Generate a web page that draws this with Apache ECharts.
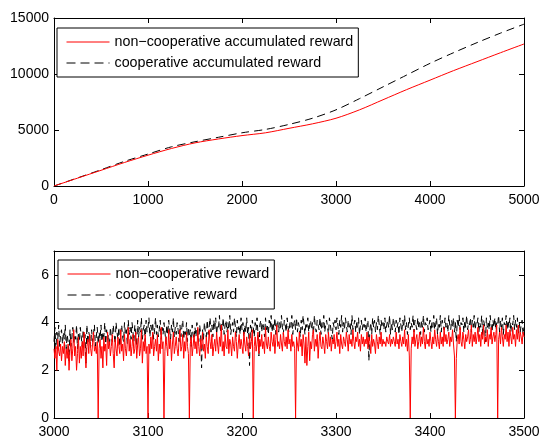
<!DOCTYPE html>
<html><head><meta charset="utf-8">
<script src="https://cdn.jsdelivr.net/npm/echarts@6/dist/echarts.min.js"></script>
<style>html,body{margin:0;padding:0;background:#fff}#c{width:539px;height:441px}</style>
</head><body><div id="c"></div>
<script>
// Top subplot: accumulated reward
const topX = [0,250,500,750,1000,1250,1500,1750,2000,2250,2500,2750,3000,3250,3500,3750,4000,4250,4500,4750,5000];
const topNonCoop = [0,700,1400,2100,2750,3350,3850,4200,4500,4750,5150,5550,6050,6800,7700,8600,9450,10300,11100,11900,12680];
const topCoop = [0,720,1450,2200,2850,3500,3950,4350,4750,5050,5500,6050,6800,7800,8850,9900,10950,11900,12800,13650,14450];
const topXTicks = [0,1000,2000,3000,4000,5000];
const topYTicks = [0,5000,10000,15000];

// Bottom subplot: per-step reward, steps 3000..3500
const botStart = 3000;
const botNonCoop = [
2.9,2.5,3.0,2.0,3.3,2.8,2.6,3.1,2.4,3.0,
2.7,3.2,2.2,2.9,2.5,3.1,2.0,2.8,3.3,2.4,
2.9,3.7,2.6,3.0,2.0,2.7,3.4,2.3,3.0,2.5,
3.2,2.6,3.6,2.8,2.1,3.0,3.3,2.7,3.5,2.9,
2.6,3.1,3.6,2.8,3.0,2.7,3.2,0,2.9,3.3,
2.5,3.0,2.1,3.4,2.8,3.1,2.2,3.6,2.9,3.2,
2.6,3.0,3.5,2.7,2.1,3.3,2.9,2.6,3.4,3.0,
2.7,3.7,2.8,3.1,2.4,3.5,2.9,2.6,3.2,3.8,
2.8,3.3,2.6,3.0,3.5,2.7,2.9,3.6,2.5,3.1,
3.4,2.6,2.9,3.7,2.3,3.2,2.8,3.5,2.7,3.0,
0,3.1,2.7,3.4,2.9,3.6,2.6,3.0,3.3,2.8,
3.5,2.4,3.1,2.7,3.8,2.9,3.2,0,2.8,3.4,
3.0,2.6,3.7,2.9,3.3,2.4,3.1,3.6,2.7,3.0,
3.4,2.9,2.6,3.2,3.7,2.8,3.0,3.5,2.5,3.2,
2.8,3.6,3.0,2.7,0,3.1,3.4,2.6,3.0,3.5,
2.9,3.2,2.7,3.8,3.0,2.6,3.3,2.9,3.6,2.8,
3.1,2.5,3.4,3.0,2.7,3.7,3.2,2.9,3.5,2.6,
3.0,3.3,2.8,3.6,3.1,2.7,3.4,3.0,3.9,2.8,
3.2,2.6,3.5,3.0,2.9,3.7,2.7,3.3,3.1,2.6,
3.4,3.0,2.8,3.6,3.2,2.5,3.1,3.5,2.9,3.3,
3.0,2.7,3.6,3.1,2.8,3.4,3.0,2.6,3.5,2.9,
3.2,3.7,0,3.0,3.4,2.8,3.1,3.6,2.7,3.3,
3.0,3.5,2.9,3.2,2.7,3.8,3.1,2.9,3.4,3.0,
2.8,3.6,3.2,3.0,3.5,2.7,3.3,3.9,3.0,3.2,
2.9,3.5,3.1,2.8,3.6,3.2,3.0,3.4,2.9,3.7,
3.1,3.3,2.8,3.5,3.0,3.2,2.9,0,3.4,3.1,
2.8,3.6,3.0,3.3,2.6,3.5,3.1,2.3,3.4,2.2,
3.0,3.6,2.4,3.2,2.9,3.5,3.7,2.8,3.3,3.0,
3.5,2.5,3.2,3.6,3.0,2.9,3.4,3.1,2.7,3.5,
3.2,2.9,3.6,3.0,3.4,2.8,3.3,3.1,3.5,2.9,
3.2,3.6,3.0,3.3,2.7,3.5,3.1,2.9,3.4,3.2,
3.0,3.6,3.3,2.8,3.5,3.1,3.3,3.0,3.7,3.2,
2.9,3.4,3.2,3.6,3.0,3.3,2.8,3.5,3.1,3.4,
3.0,3.3,3.1,3.6,2.9,3.4,3.2,2.7,3.5,3.0,
3.3,3.1,2.7,3.5,3.2,2.9,3.4,3.1,3.6,3.0,
3.3,3.1,3.2,3.0,3.4,3.2,3.1,3.5,3.0,3.3,
3.1,3.4,3.2,3.0,3.6,3.1,3.3,2.9,3.5,3.2,
3.0,3.4,3.1,3.7,3.0,3.3,2.8,3.5,2.6,0,
2.9,3.4,3.1,3.7,3.0,3.3,3.5,2.9,3.2,3.6,
3.0,3.4,3.1,3.8,3.2,2.9,3.5,3.1,3.3,3.0,
3.6,3.2,2.9,3.4,3.1,3.7,3.3,3.0,3.5,3.2,
2.9,3.6,3.1,3.4,3.0,3.8,3.2,3.5,3.1,3.3,
3.6,3.0,3.4,3.2,3.7,3.1,2.6,0,2.5,3.3,
3.5,3.1,3.8,3.2,3.0,3.6,3.3,2.9,3.5,3.2,
3.4,3.7,3.1,3.3,3.9,3.0,3.5,3.2,3.6,3.1,
3.4,3.8,3.2,3.5,3.0,3.6,3.3,3.9,3.1,3.4,
3.2,3.7,3.0,3.5,3.3,3.8,3.1,3.4,3.6,3.2,
3.5,3.9,0,3.3,3.6,3.1,3.8,3.4,3.0,3.5,
3.3,3.9,3.2,3.6,3.0,3.7,3.4,3.1,3.8,3.3,
3.5,3.0,3.7,3.3,3.9,3.2,3.6,3.4,3.1,3.6,
3.4];
const botCoop = [
3.2,3.8,2.9,3.6,3.3,3.9,3.0,3.5,3.7,3.1,
3.6,3.3,3.9,2.9,3.5,3.2,2.4,3.7,3.0,3.4,
3.8,3.1,3.5,3.3,3.9,2.9,3.6,3.2,3.8,3.4,
3.0,3.7,3.3,3.5,2.3,3.9,3.1,3.6,3.4,3.0,
3.7,3.2,3.5,3.9,3.0,3.4,3.8,3.1,3.6,3.3,
3.9,3.2,3.6,3.4,4.0,3.1,3.7,3.3,3.5,3.0,
3.8,3.4,3.2,3.9,3.5,3.1,4.0,3.6,3.3,3.8,
3.0,3.6,3.9,3.4,3.2,4.0,3.5,3.7,3.1,4.1,
3.5,3.8,3.3,4.0,3.6,3.2,3.9,3.5,3.0,4.1,
3.4,3.8,3.6,4.2,3.3,3.7,3.9,3.2,4.1,3.6,
3.8,4.2,3.4,3.9,3.6,4.0,3.3,3.7,4.2,3.5,
3.9,3.4,3.7,4.1,3.3,3.8,3.5,4.0,3.6,3.2,
3.9,3.5,4.1,3.7,3.3,3.9,3.6,4.2,3.4,3.8,
3.5,4.0,3.7,3.2,3.9,3.4,3.8,4.1,3.3,3.7,
3.5,4.0,3.2,3.8,3.4,3.7,3.0,3.9,3.5,3.3,
3.8,3.4,4.0,3.6,3.2,3.9,3.5,2.1,3.7,3.3,
4.0,3.6,3.4,4.1,3.5,3.8,4.2,3.6,3.9,3.4,
4.1,3.7,4.2,3.5,3.9,3.8,4.3,3.6,4.0,3.7,
4.2,3.5,3.9,4.1,3.6,4.0,3.7,4.3,3.5,3.8,
4.0,3.6,4.2,3.8,3.4,4.1,3.7,3.9,3.5,4.2,
3.7,4.0,3.4,3.9,3.6,4.2,3.5,3.8,2.2,3.9,
3.6,4.1,3.8,3.4,4.0,3.7,4.2,3.5,2.6,3.9,
4.1,3.6,4.0,3.8,3.4,4.2,3.7,3.9,3.5,4.1,
3.8,4.3,3.6,4.0,3.7,4.2,3.5,3.9,4.1,3.6,
4.0,3.7,4.3,3.8,3.5,4.1,3.9,3.6,4.2,3.8,
3.6,4.0,3.8,4.3,3.5,3.9,4.1,3.7,4.2,3.6,
4.0,3.8,3.4,4.1,3.7,4.3,3.9,3.5,4.0,3.8,
4.2,3.6,3.9,4.1,3.7,4.0,3.5,4.3,3.8,3.6,
4.1,3.9,3.7,4.2,3.5,4.0,3.8,4.3,3.6,3.9,
4.1,3.8,3.5,4.2,3.9,3.6,3.3,4.0,3.8,4.1,
3.7,4.2,3.9,3.5,4.1,3.8,4.3,3.6,4.0,3.7,
4.2,3.9,3.6,4.1,3.8,4.0,3.5,4.3,3.7,3.9,
4.1,3.6,4.0,3.8,4.2,3.5,3.9,4.1,3.7,4.0,
3.8,4.2,3.6,3.9,4.1,2.4,3.7,4.0,3.5,4.2,
3.8,4.1,3.6,4.0,3.7,4.3,3.9,3.5,4.1,3.8,
4.0,3.7,4.2,3.6,3.9,4.1,3.8,4.3,3.5,4.0,
3.7,4.2,3.9,3.6,4.1,3.8,4.0,3.5,4.2,3.9,
3.6,4.1,3.8,4.3,3.7,4.0,3.5,3.9,4.2,3.7,
4.0,3.8,4.3,3.6,4.1,3.9,3.7,4.2,3.8,4.0,
3.5,4.1,3.8,4.3,3.6,4.0,3.9,4.2,3.7,3.9,
4.1,3.6,4.0,3.8,4.3,3.7,3.9,4.2,3.5,4.0,
3.8,4.3,3.6,4.1,3.9,3.7,4.2,3.8,4.0,3.6,
4.3,3.9,3.7,4.1,3.8,4.2,3.6,4.0,3.2,4.1,
3.8,4.3,3.7,4.0,3.9,4.2,3.6,4.1,3.8,4.3,
3.7,4.0,3.9,4.2,3.6,4.1,3.8,4.3,3.7,4.0,
3.9,4.2,3.6,4.0,3.8,4.3,3.5,4.1,3.9,3.2,
4.2,3.8,4.0,3.7,4.3,3.9,3.6,4.1,3.8,4.2,
3.7,4.0,3.9,4.3,3.6,4.1,3.8,4.2,3.5,4.0,
3.9,4.3,3.7,4.1,3.8,4.2,3.6,4.0,3.9,4.3,
3.7,4.1,3.8,4.2,3.5,4.0,3.6,3.9,4.1,3.5,
3.8];
const botXTicks = [3000,3100,3200,3300,3400,3500];
const botYTicks = [0,2,4,6];

const FONT = "'Liberation Sans', Arial, Helvetica, sans-serif";
const RED = '#ff0000';
const BLK = '#000000';

function xy(xs, ys){ return xs.map((x,i)=>[x, ys[i]]); }
function seq(start, ys){ return ys.map((v,i)=>[start+i, v]); }

function axisCommon(showLabels, min, max, interval, ticks, margin){
  return {
    type:'value', min:min, max:max, interval:interval,
    axisLine:{show:true, onZero:false, lineStyle:{color:'#000', width:1}},
    axisTick:{show:true, inside:true, length:5, lineStyle:{color:'#000', width:1}},
    axisLabel:{show:showLabels, color:'#000', fontFamily:FONT, fontSize:14, margin:margin || 7,
      showMinLabel:true, showMaxLabel:true,
      formatter: v => (ticks && ticks.indexOf(v) < 0) ? '' : String(v)},
    splitLine:{show:false}
  };
}

const grids = [
  {left:54, top:18, width:470, height:168, outerBoundsMode:'none', containLabel:false},
  {left:54, top:251, width:470, height:167, outerBoundsMode:'none', containLabel:false}
];

const xAxes = [
  Object.assign(axisCommon(true, topX[0], topX[topX.length-1], 1000, topXTicks, 7), {gridIndex:0, position:'bottom'}),
  Object.assign(axisCommon(false, topX[0], topX[topX.length-1], 1000), {gridIndex:0, position:'top'}),
  Object.assign(axisCommon(true, botStart, botStart+500, 100, botXTicks, 7), {gridIndex:1, position:'bottom'}),
  Object.assign(axisCommon(false, botStart, botStart+500, 100), {gridIndex:1, position:'top'})
];
const yAxes = [
  Object.assign(axisCommon(true, 0, 15000, 5000, topYTicks, 5), {gridIndex:0, position:'left'}),
  Object.assign(axisCommon(false, 0, 15000, 5000), {gridIndex:0, position:'right'}),
  Object.assign(axisCommon(true, 0, 7, 2, botYTicks, 5), {gridIndex:1, position:'left'}),
  Object.assign(axisCommon(false, 0, 7, 2), {gridIndex:1, position:'right'})
];

const names = {
  tn:'non\u2212cooperative accumulated reward',
  tc:'cooperative accumulated reward',
  bn:'non\u2212cooperative reward',
  bc:'cooperative reward'
};

function legend(left, top, solidName, dashName){
  return {
    show:true, left:left, top:top, orient:'vertical',
    data:[
      {name:solidName, lineStyle:{width:1, color:RED, type:'solid'}},
      {name:dashName, lineStyle:{width:1, color:BLK, type:[9,5]}}
    ],
    itemWidth:43, itemHeight:14, itemGap:7,
    padding:[7,5,7,9],
    borderColor:'#000', borderWidth:1, backgroundColor:'#fff', borderRadius:0,
    textStyle:{color:'#000', fontFamily:FONT, fontSize:14.3},
    itemStyle:{color:'rgba(0,0,0,0)', borderWidth:0, opacity:0},
    lineStyle:{width:1},
    selectedMode:false
  };
}

const option = {
  animation:false,
  backgroundColor:'#fff',
  grid:grids, xAxis:xAxes, yAxis:yAxes,
  legend:[legend(57,28,names.tn,names.tc), legend(58,260,names.bn,names.bc)],
  series:[
    {name:names.tn, type:'line', xAxisIndex:0, yAxisIndex:0, data:xy(topX, topNonCoop), smooth:0.3, showSymbol:false, symbol:'none',
     lineStyle:{color:RED, width:1}, itemStyle:{color:RED}, z:3},
    {name:names.tc, type:'line', xAxisIndex:0, yAxisIndex:0, data:xy(topX, topCoop), smooth:0.3, showSymbol:false, symbol:'none',
     lineStyle:{color:BLK, width:1, type:[8,5]}, itemStyle:{color:BLK}, z:2},
    {name:names.bn, type:'line', xAxisIndex:2, yAxisIndex:2, data:seq(botStart, botNonCoop), showSymbol:false, symbol:'none',
     lineStyle:{color:RED, width:1}, itemStyle:{color:RED}, z:3},
    {name:names.bc, type:'line', xAxisIndex:2, yAxisIndex:2, data:seq(botStart, botCoop), showSymbol:false, symbol:'none',
     lineStyle:{color:BLK, width:1, type:[6,4]}, itemStyle:{color:BLK}, z:2}
  ]
};
const chart = echarts.init(document.getElementById('c'), null, {renderer:'canvas'});
chart.setOption(option);
</script></body></html>
